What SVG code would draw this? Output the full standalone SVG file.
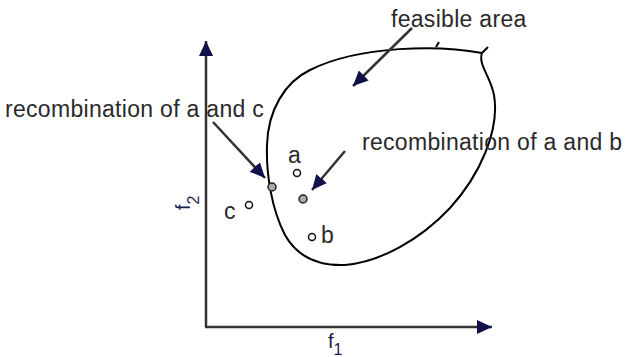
<svg xmlns="http://www.w3.org/2000/svg" width="627" height="357" viewBox="0 0 627 357">
<style>
.t{font-family:"Liberation Sans",Arial,sans-serif;font-size:23px;letter-spacing:0.3px;fill:#2a2a2a}
.ax{font-family:"Liberation Sans",Arial,sans-serif;font-size:20px;fill:#1c1c50}
.ln{stroke:#333;stroke-width:2.5;fill:none}
.curve{stroke:#000;stroke-width:2;fill:none}
.pt{fill:#fff;stroke:#111;stroke-width:1.5}
.gp{fill:#aaa;stroke:#222;stroke-width:1.5}
</style>
<defs>
<marker id="ah" markerUnits="userSpaceOnUse" markerWidth="16" markerHeight="14" refX="15" refY="7" orient="auto">
<path d="M0,0 L15,7 L0,14 Z" fill="#10104a"/>
</marker>
</defs>
<rect width="627" height="357" fill="#fff"/>
<g id="feasible-area">
<path class="curve" d="M482,53 C440,45 360,45 310,70 C285,82 268,110 267,145 C266,175 272,210 285,235 C298,258 320,266 345,265 C380,262 420,240 450,208 C480,175 500,130 494,95 C490,75 478,65 482,53"/>
<path class="curve" d="M482,53 L488,47" stroke-width="1.5"/>
<path class="curve" d="M436,47 L439,42" stroke-width="1"/>
</g>
<g id="connectors">
<line class="ln" x1="206" y1="327" x2="206" y2="41" marker-end="url(#ah)"/>
<line class="ln" x1="205" y1="327" x2="492" y2="327" marker-end="url(#ah)"/>
<line class="ln" x1="412" y1="28" x2="353" y2="86" marker-end="url(#ah)"/>
<line class="ln" x1="213" y1="122" x2="265" y2="178" marker-end="url(#ah)"/>
<line class="ln" x1="345" y1="151" x2="312" y2="190" marker-end="url(#ah)"/>
</g>
<g id="label-feasible"><text class="t" x="391" y="27">feasible area</text></g>
<g id="label-ac"><text class="t" x="5" y="117">recombination of a and c</text></g>
<g id="label-ab"><text class="t" x="362" y="150">recombination of a and b</text></g>
<g id="point-a"><circle class="pt" cx="297" cy="173" r="3.5"/><text class="t" x="288" y="163">a</text></g>
<g id="point-b"><circle class="pt" cx="312" cy="237" r="3.5"/><text class="t" x="321" y="243">b</text></g>
<g id="point-c"><circle class="pt" cx="249" cy="205" r="3.5"/><text class="t" x="224" y="219">c</text></g>
<g id="point-ac"><circle class="gp" cx="272" cy="187" r="4"/></g>
<g id="point-ab"><circle class="gp" cx="303" cy="199" r="4"/></g>
<g id="axis-f1"><text class="ax" x="328" y="348">f<tspan font-size="16" dy="7">1</tspan></text></g>
<g id="axis-f2"><text class="ax" transform="translate(190,210) rotate(-90)">f<tspan font-size="16" dy="9">2</tspan></text></g>
</svg>
